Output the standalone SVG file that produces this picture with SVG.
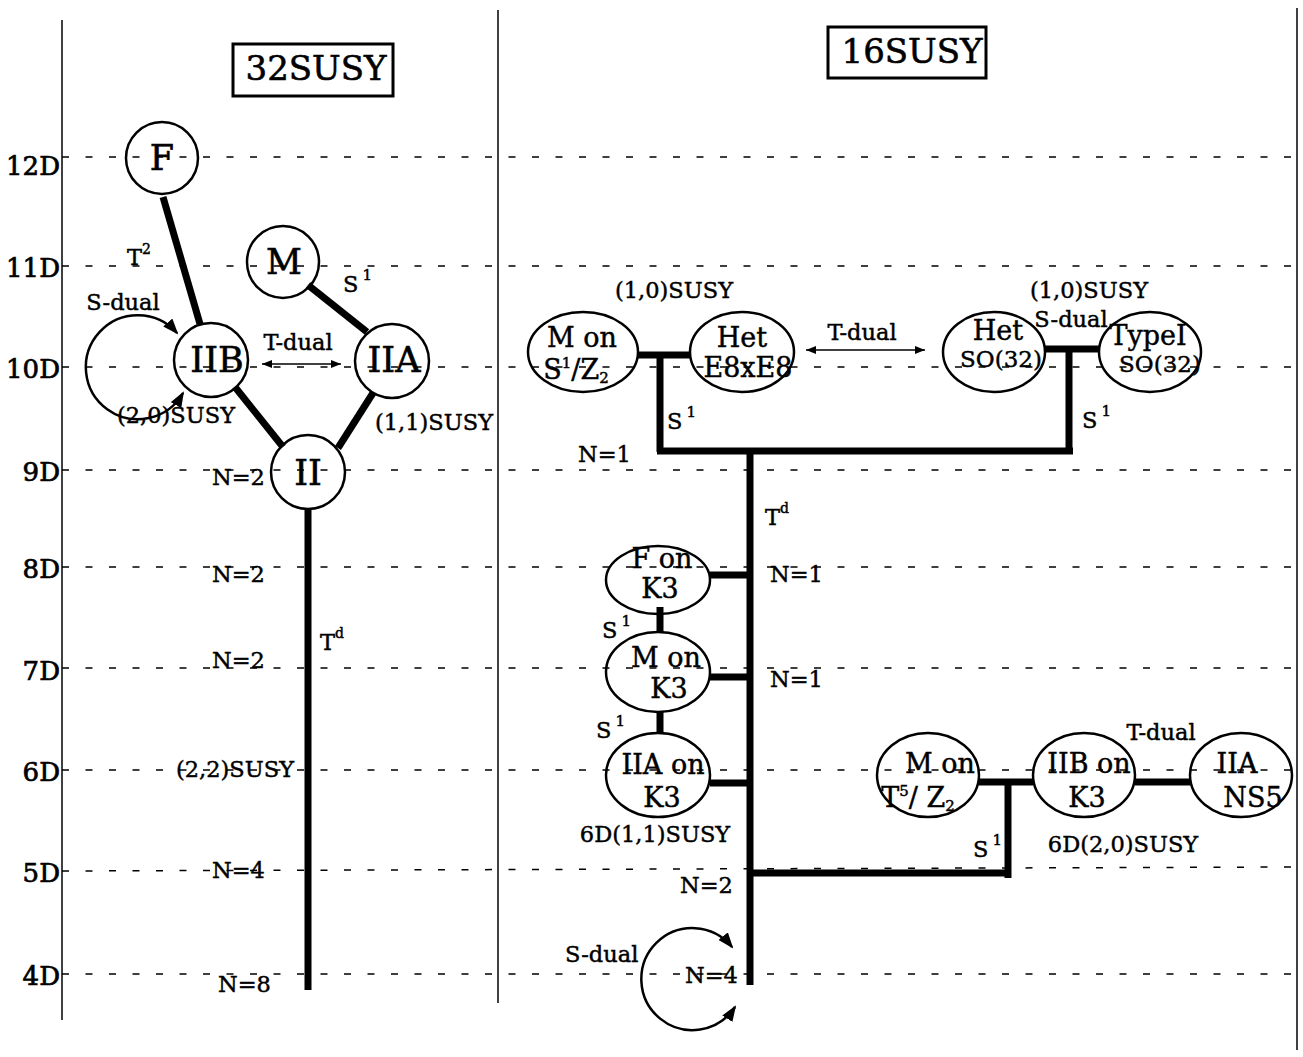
<svg xmlns="http://www.w3.org/2000/svg" width="1303" height="1057" viewBox="0 0 1303 1057">
<style>
text{font-family:"DejaVu Serif","Liberation Serif",serif;fill:#000;stroke:#000;stroke-width:0.45}
.ax{font-size:26px;text-anchor:end;stroke-width:0.7}
.lb{font-size:22.5px}
.mid{text-anchor:middle}
.nd{font-size:35px;text-anchor:middle;stroke-width:0.6}
.en{font-size:27px;text-anchor:middle}
.sm{font-size:23px;text-anchor:middle}
.ttl{font-size:34px;text-anchor:middle;stroke-width:0.6}
.node{fill:none;stroke:#000;stroke-width:2.5}
.box{fill:none;stroke:#000;stroke-width:3}
.thick{stroke:#000;stroke-width:7;fill:none}
.thin{stroke:#000;stroke-width:1.5;fill:none}
.arc{stroke:#000;stroke-width:2.5;fill:none}
.dash{stroke:#000;stroke-width:1.5;stroke-dasharray:7 16.5}
.sep{stroke:#000;stroke-width:1.5}
</style>
<defs>
<marker id="ah" viewBox="0 0 16 12" refX="14" refY="6" markerWidth="16" markerHeight="12" markerUnits="userSpaceOnUse" orient="auto-start-reverse"><path d="M0,0 L16,6 L0,12 z"/></marker>
<marker id="as" viewBox="0 0 10 8" refX="10" refY="4" markerWidth="10" markerHeight="8" markerUnits="userSpaceOnUse" orient="auto-start-reverse"><path d="M0,0 L10,4 L0,8 z"/></marker>
</defs>
<rect width="1303" height="1057" fill="#fff"/>
<g id="grid">
<line class="dash" x1="62" y1="157" x2="1296" y2="157"/>
<line class="dash" x1="62" y1="266" x2="1296" y2="266"/>
<line class="dash" x1="62" y1="367" x2="1296" y2="367"/>
<line class="dash" x1="62" y1="470" x2="1296" y2="470"/>
<line class="dash" x1="62" y1="567" x2="1296" y2="567"/>
<line class="dash" x1="62" y1="668" x2="1296" y2="668"/>
<line class="dash" x1="62" y1="770" x2="1296" y2="770"/>
<line class="dash" x1="62" y1="871" x2="1296" y2="867"/>
<line class="dash" x1="62" y1="974" x2="1296" y2="974"/>
<line class="sep" x1="62" y1="20" x2="62" y2="1020"/>
<line class="sep" x1="498" y1="10" x2="498" y2="1003"/>
<line class="sep" x1="1297" y1="8" x2="1297" y2="1050"/>
<text class="ax" x="60" y="175">12D</text>
<text class="ax" x="60" y="277">11D</text>
<text class="ax" x="60" y="378">10D</text>
<text class="ax" x="60" y="481">9D</text>
<text class="ax" x="60" y="578">8D</text>
<text class="ax" x="60" y="680">7D</text>
<text class="ax" x="60" y="781">6D</text>
<text class="ax" x="60" y="882">5D</text>
<text class="ax" x="60" y="985">4D</text>
</g>
<g id="title32"><rect class="box" x="233" y="44" width="160" height="52"/><text class="ttl" x="316" y="80">32SUSY</text></g>
<g id="title16"><rect class="box" x="828" y="27" width="158" height="51"/><text class="ttl" x="912" y="63">16SUSY</text></g>
<g id="connectors">
<path class="thick" d="M163,197 L200,324"/>
<path class="thick" d="M308,285 L367,332"/>
<path class="thick" d="M235,387 L283,447"/>
<path class="thick" d="M373,393 L338,448"/>
<path class="thick" d="M308,509 V990"/>
<path class="thin" d="M262,364 H341" marker-start="url(#as)" marker-end="url(#as)"/>
<path class="arc" d="M177,333 A52,52 0 1 0 183,393" marker-start="url(#ah)" marker-end="url(#ah)"/>
<path class="thick" d="M638,355 H691 M660,355 V452 M657,451 H1073 M1069,350 V454 M1045,349 H1100"/>
<path class="thin" d="M806,350 H925" marker-start="url(#as)" marker-end="url(#as)"/>
<path class="thick" d="M750,451 V985"/>
<path class="thick" d="M710,575 H750 M660,607 V632 M710,677 H750 M660,712 V733 M710,783 H750"/>
<path class="thick" d="M752,873 H1008 M1008,782 V878 M979,782 H1033 M1135,782 H1190"/>
<path class="arc" d="M732,947 A51,51 0 1 0 735,1007" marker-start="url(#ah)" marker-end="url(#ah)"/>
</g>
<g id="F"><circle class="node" cx="162" cy="158" r="36"/><text class="nd" x="162" y="170">F</text></g>
<g id="M"><circle class="node" cx="283" cy="262" r="36"/><text class="nd" x="284" y="274">M</text></g>
<g id="IIB"><circle class="node" cx="211" cy="360" r="37"/><text class="nd" x="217" y="372">IIB</text></g>
<g id="IIA"><circle class="node" cx="392" cy="361" r="37"/><text class="nd" x="394" y="372">IIA</text></g>
<g id="II"><circle class="node" cx="308" cy="472" r="37"/><text class="nd" x="308" y="485">II</text></g>
<g id="MS1Z2"><ellipse class="node" cx="583" cy="352" rx="55" ry="40"/><text class="en" x="582" y="347">M on</text><text class="en" x="576" y="379">S<tspan font-size="15" dy="-11">1</tspan><tspan dy="11">/Z</tspan><tspan font-size="15" dy="4">2</tspan></text></g>
<g id="HetE8"><ellipse class="node" cx="742" cy="352" rx="52" ry="40"/><text class="en" x="742" y="347">Het</text><text class="en" x="748" y="377">E8xE8</text></g>
<g id="HetSO"><ellipse class="node" cx="994" cy="352" rx="51" ry="40"/><text class="en" x="998" y="340">Het</text><text class="sm" x="1001" y="367">SO(32)</text></g>
<g id="TypeI"><ellipse class="node" cx="1150" cy="352" rx="51" ry="40"/><text class="en" x="1148" y="345">TypeI</text><text class="sm" x="1160" y="372">SO(32)</text></g>
<g id="FK3"><ellipse class="node" cx="658" cy="580" rx="52" ry="34"/><text class="en" x="662" y="568">F on</text><text class="en" x="660" y="598">K3</text></g>
<g id="MK3"><ellipse class="node" cx="658" cy="672" rx="52" ry="40"/><text class="en" x="666" y="667">M on</text><text class="en" x="669" y="698">K3</text></g>
<g id="IIAK3"><ellipse class="node" cx="658" cy="775" rx="52" ry="42"/><text class="en" x="663" y="774">IIA on</text><text class="en" x="662" y="807">K3</text></g>
<g id="MT5"><ellipse class="node" cx="928" cy="775" rx="51" ry="42"/><text class="en" x="940" y="773">M on</text><text class="en" x="918" y="807">T<tspan font-size="15" dy="-11">5</tspan><tspan dy="11">/ Z</tspan><tspan font-size="15" dy="4">2</tspan></text></g>
<g id="IIBK3"><ellipse class="node" cx="1084" cy="775" rx="51" ry="42"/><text class="en" x="1089" y="773">IIB on</text><text class="en" x="1087" y="807">K3</text></g>
<g id="IIANS5"><ellipse class="node" cx="1241" cy="775" rx="51" ry="42"/><text class="en" x="1237" y="773">IIA</text><text class="en" x="1253" y="807">NS5</text></g>
<g id="labels">
<text class="lb mid" x="123" y="310">S-dual</text>
<text class="lb" x="127" y="265">T<tspan font-size="14" dy="-11">2</tspan></text>
<text class="lb" x="117" y="423">(2,0)SUSY</text>
<text class="lb mid" x="298" y="350">T-dual</text>
<text class="lb" x="343" y="292">S<tspan font-size="15" dy="-12" dx="4">1</tspan></text>
<text class="lb" x="375" y="430">(1,1)SUSY</text>
<text class="lb" x="212" y="485">N=2</text>
<text class="lb" x="212" y="582">N=2</text>
<text class="lb" x="320" y="650">T<tspan font-size="14" dy="-12">d</tspan></text>
<text class="lb" x="212" y="668">N=2</text>
<text class="lb" x="176" y="777">(2,2)SUSY</text>
<text class="lb" x="212" y="878">N=4</text>
<text class="lb" x="218" y="992">N=8</text>
<text class="lb mid" x="674" y="298">(1,0)SUSY</text>
<text class="lb mid" x="862" y="340">T-dual</text>
<text class="lb mid" x="1089" y="298">(1,0)SUSY</text>
<text class="lb mid" x="1071" y="327">S-dual</text>
<text class="lb" x="667" y="429">S<tspan font-size="15" dy="-12" dx="4">1</tspan></text>
<text class="lb" x="1082" y="428">S<tspan font-size="15" dy="-12" dx="4">1</tspan></text>
<text class="lb" x="578" y="462">N=1</text>
<text class="lb" x="765" y="525">T<tspan font-size="14" dy="-12">d</tspan></text>
<text class="lb" x="770" y="582">N=1</text>
<text class="lb" x="770" y="687">N=1</text>
<text class="lb" x="602" y="638">S<tspan font-size="15" dy="-12" dx="4">1</tspan></text>
<text class="lb" x="596" y="738">S<tspan font-size="15" dy="-12" dx="4">1</tspan></text>
<text class="lb mid" x="655" y="842">6D(1,1)SUSY</text>
<text class="lb mid" x="1161" y="740">T-dual</text>
<text class="lb mid" x="1123" y="852">6D(2,0)SUSY</text>
<text class="lb" x="973" y="857">S<tspan font-size="15" dy="-12" dx="4">1</tspan></text>
<text class="lb" x="680" y="893">N=2</text>
<text class="lb" x="565" y="962">S-dual</text>
<text class="lb" x="685" y="983">N=4</text>
</g>
</svg>
